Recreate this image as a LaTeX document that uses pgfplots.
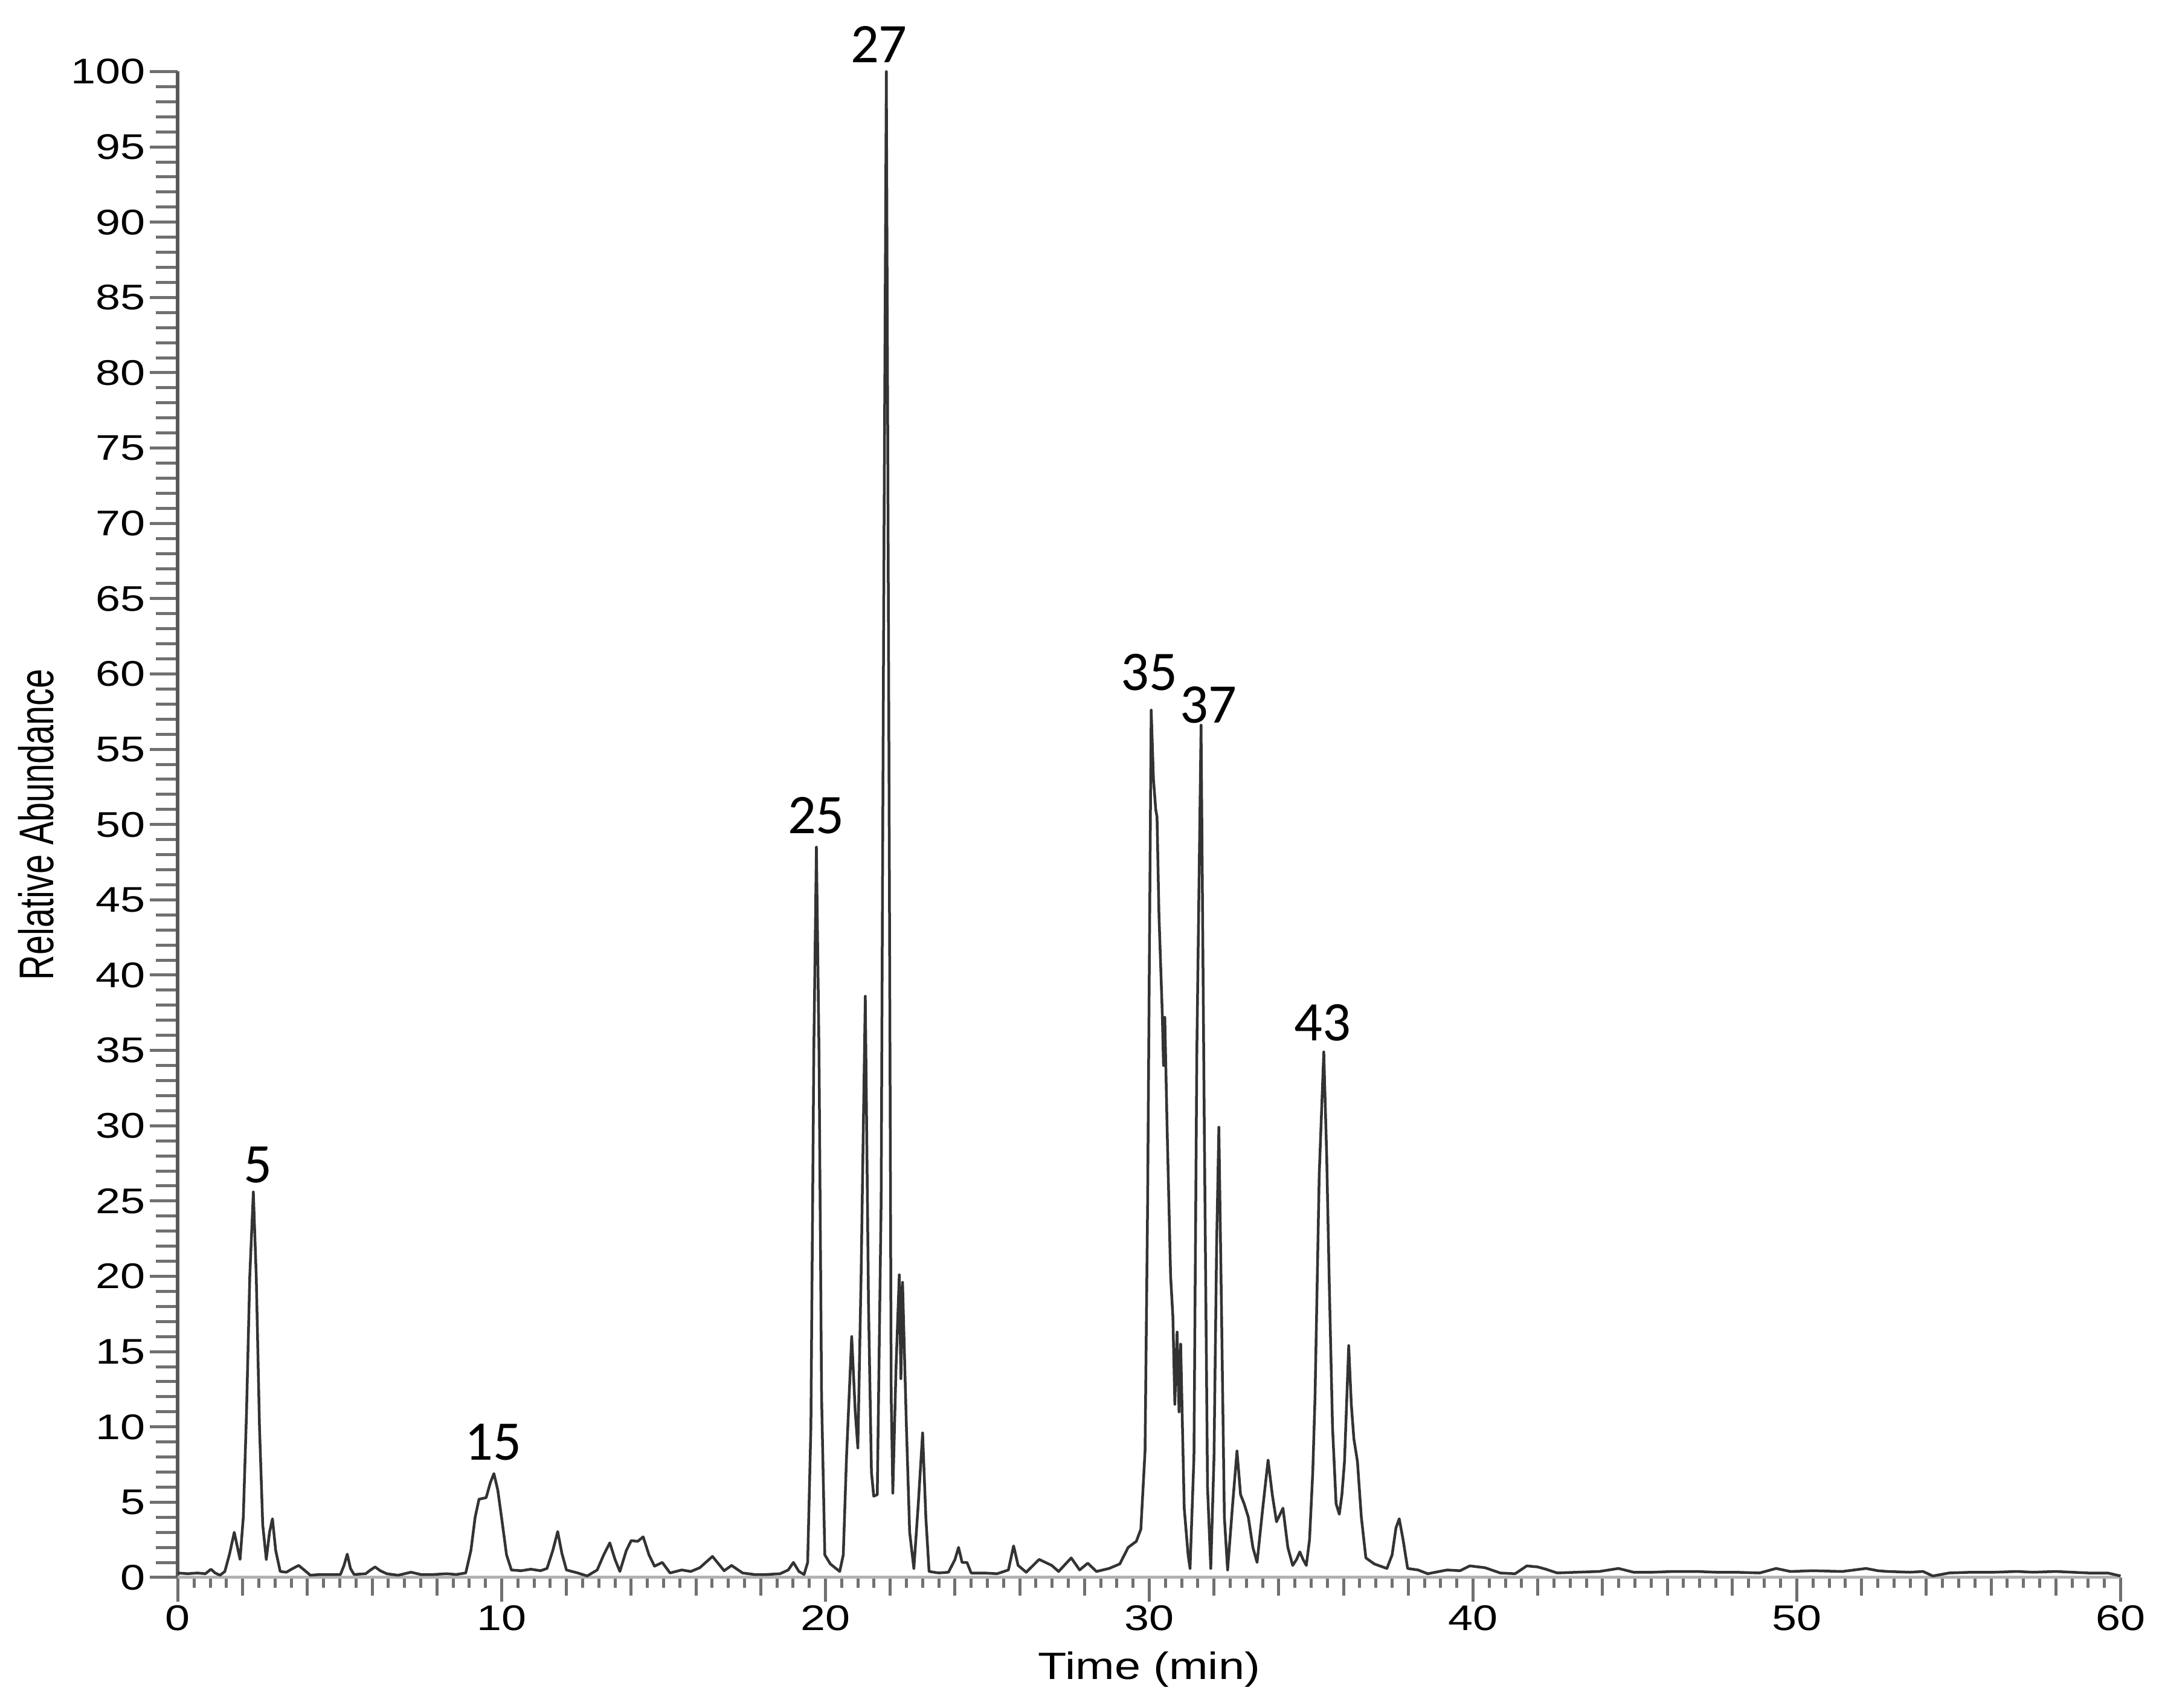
\documentclass[border=0pt]{standalone}
\usepackage{graphicx}
\usepackage{fontspec}
\setmainfont{Liberation Sans}
\newfontfamily\peakfont{Carlito}
\usepackage{pgfplots}
\pgfplotsset{compat=1.18}

\definecolor{trace}{HTML}{333333}
\definecolor{tickgray}{HTML}{707070}

\pgfplotsset{
  chrom/.style={
    scale only axis, width=643.2pt, height=498.5pt,
    at={(58.9pt,43.2pt)}, anchor=south west,
    xmin=0, xmax=60, ymin=0, ymax=100,
    clip=false,
    tick style={tickgray, line width=1pt},
    /pgf/number format/assume math mode=true,
    tick label style={font=\fontsize{11.8}{12}\selectfont, xscale=1.25, inner sep=0pt},
    xticklabel style={anchor=north, yshift=-1pt},
    yticklabel style={anchor=east, xshift=-1pt},
  },
}

\begin{document}
\begin{tikzpicture}
\useasboundingbox (0,0) rectangle (715.8pt,565.4pt);

% 2 min and 0.5 min ticks on the time axis
\begin{axis}[chrom,
  axis x line=bottom, axis y line=none,
  x axis line style={-, black!30, line width=1pt},
  xtick={0,2,...,60}, xticklabels={},
  minor xtick={0,0.5,...,60},
  major tick length=6pt, minor tick length=3.4pt,
  ytick=\empty, tick align=outside]
\end{axis}

% abundance axis
\begin{axis}[chrom,
  axis x line=none, axis y line=left,
  y axis line style={-, black!65, line width=1.2pt},
  xtick=\empty,
  ytick={0,5,...,100}, minor y tick num=4,
  major tick length=9.3pt, minor tick length=7.3pt,
  tick align=outside]
\end{axis}

% time axis labels and the trace
\begin{axis}[chrom,
  axis x line=bottom, axis y line=none,
  x axis line style={-, black!30, line width=1pt},
  xtick={0,10,...,60}, minor x tick num=0,
  major tick length=8pt,
  ytick=\empty, tick align=outside]

\addplot[trace, line width=0.9pt, line join=round, mark=none] coordinates {
(0.00,0.30) (0.30,0.25) (0.60,0.30) (0.85,0.25) (1.02,0.55) (1.15,0.30)
(1.30,0.15) (1.45,0.40) (1.60,1.60) (1.74,3.00) (1.84,2.00) (1.92,1.20)
(2.02,4.0) (2.12,11.0) (2.22,20.0) (2.33,25.6) (2.42,20.0) (2.52,10.0)
(2.62,3.5) (2.73,1.20) (2.83,3.0) (2.92,3.90) (3.02,1.8) (3.16,0.40)
(3.35,0.35) (3.55,0.60) (3.73,0.80) (3.90,0.50) (4.09,0.15) (4.40,0.20)
(4.80,0.20) (5.02,0.20) (5.13,0.8) (5.23,1.55) (5.33,0.6) (5.44,0.20)
(5.80,0.25) (5.95,0.50) (6.09,0.70) (6.25,0.45) (6.45,0.25) (6.80,0.15)
(7.20,0.35) (7.50,0.20) (7.90,0.20) (8.30,0.25) (8.60,0.20) (8.89,0.30)
(9.05,1.8) (9.18,4.0) (9.30,5.20) (9.52,5.30) (9.65,6.3) (9.76,6.90)
(9.88,5.8) (10.02,3.60) (10.15,1.5) (10.30,0.50) (10.60,0.45) (10.90,0.55)
(11.20,0.45) (11.40,0.60) (11.58,1.8) (11.73,3.05) (11.86,1.6) (12.00,0.50)
(12.35,0.30) (12.64,0.10) (12.95,0.5) (13.15,1.5) (13.34,2.30) (13.50,1.2)
(13.65,0.40) (13.85,1.8) (14.00,2.45) (14.20,2.40) (14.37,2.70) (14.55,1.5)
(14.72,0.75) (14.96,1.00) (15.20,0.30) (15.56,0.50) (15.84,0.40) (16.12,0.65)
(16.51,1.40) (16.87,0.45) (17.10,0.80) (17.44,0.30) (17.80,0.20) (18.20,0.20)
(18.60,0.25) (18.85,0.5) (19.01,1.00) (19.18,0.40) (19.34,0.20) (19.45,1.0)
(19.55,10.0) (19.64,35.0) (19.72,48.5) (19.80,35.0) (19.88,12.0) (19.98,1.5)
(20.15,0.9) (20.44,0.40) (20.55,1.5) (20.65,8.0) (20.81,16.0) (20.92,11.0)
(21.00,8.6) (21.10,20.0) (21.23,38.6) (21.33,18.0) (21.42,7.0) (21.49,5.4)
(21.60,5.5) (21.72,25.0) (21.81,70.0) (21.88,100.0) (21.96,55.0) (22.03,12.0)
(22.08,5.6) (22.18,14.0) (22.28,20.1) (22.33,13.2) (22.38,19.6) (22.50,10.0)
(22.60,3.0) (22.73,0.60) (22.87,5.0) (23.00,9.60) (23.10,4.0) (23.20,0.40)
(23.50,0.30) (23.80,0.35) (24.00,1.2) (24.11,2.00) (24.22,1.00) (24.37,1.00)
(24.50,0.30) (24.90,0.30) (25.30,0.25) (25.65,0.5) (25.81,2.10) (25.95,0.8)
(26.20,0.35) (26.60,1.20) (26.99,0.80) (27.20,0.40) (27.59,1.30) (27.85,0.50)
(28.10,0.95) (28.37,0.40) (28.76,0.60) (29.09,0.90) (29.35,2.00) (29.60,2.40)
(29.74,3.20) (29.87,8.40) (29.95,25.0) (30.00,40.0) (30.06,57.6) (30.13,53.0)
(30.20,51.0) (30.24,50.5) (30.30,44.0) (30.40,37.6) (30.44,34.0) (30.48,37.2)
(30.55,30.0) (30.66,20.0) (30.73,17.3) (30.79,11.5) (30.86,16.3) (30.92,11.0)
(30.97,15.5) (31.08,4.60) (31.20,1.5) (31.26,0.60) (31.38,8.0) (31.47,35.0)
(31.60,56.6) (31.70,30.0) (31.80,6.0) (31.90,0.60) (32.00,8.0) (32.08,22.0)
(32.15,29.9) (32.23,18.0) (32.32,4.0) (32.42,0.50) (32.58,5.0) (32.71,8.40)
(32.82,5.5) (32.93,4.90) (33.06,4.00) (33.20,2.0) (33.33,1.00) (33.50,4.5)
(33.67,7.80) (33.80,5.5) (33.93,3.70) (34.13,4.60) (34.28,2.0) (34.43,0.80)
(34.55,1.2) (34.65,1.70) (34.75,1.2) (34.85,0.80) (34.95,2.5) (35.05,7.0)
(35.12,12.0) (35.25,26.8) (35.39,34.9) (35.48,28.0) (35.56,19.5) (35.66,10.0)
(35.77,4.90) (35.87,4.20) (35.95,5.5) (36.03,7.70) (36.16,15.4) (36.24,11.5)
(36.32,9.20) (36.43,7.70) (36.55,4.0) (36.69,1.30) (36.95,0.90) (37.34,0.60)
(37.50,1.5) (37.62,3.3) (37.72,3.90) (37.84,2.5) (37.98,0.60) (38.30,0.50)
(38.60,0.25) (39.20,0.50) (39.60,0.45) (39.90,0.77) (40.37,0.65) (40.84,0.30)
(41.30,0.25) (41.66,0.77) (42.00,0.70) (42.25,0.55) (42.60,0.30) (43.20,0.35)
(43.90,0.40) (44.49,0.60) (44.96,0.35) (45.55,0.35) (46.20,0.40) (46.90,0.40)
(47.50,0.35) (48.10,0.35) (48.85,0.30) (49.36,0.60) (49.80,0.40) (50.50,0.45)
(51.40,0.40) (52.14,0.60) (52.50,0.45) (52.80,0.40) (53.50,0.35) (53.90,0.40)
(54.20,0.10) (54.70,0.30) (55.40,0.35) (56.10,0.35) (56.80,0.40) (57.30,0.35)
(58.00,0.40) (58.50,0.35) (59.00,0.30) (59.60,0.30) (60.00,0.10)
};

% peak numbers
\begin{scope}[every node/.style={anchor=base, inner sep=0pt, font=\peakfont\fontsize{18.5}{19}\selectfont}]
\node at (axis cs:2.48,26.2) {5};
\node at (axis cs:9.74,7.8) {15};
\node at (axis cs:19.71,49.4) {25};
\node at (axis cs:21.65,100.6) {27};
\node at (axis cs:30.0,58.9) {35};
\node at (axis cs:31.83,56.75) {37};
\node at (axis cs:35.35,35.65) {43};
\end{scope}

% axis titles
\node[anchor=base, inner sep=0pt, font=\fontsize{12.6}{13}\selectfont]
  at ([yshift=-33.8pt]rel axis cs:0.5,0) {\scalebox{1.23}[1]{Time (min)}};
\node[rotate=90, anchor=base, inner sep=0pt, font=\fontsize{11.5}{12}\selectfont]
  at ([xshift=-41.2pt]rel axis cs:0,0.5) {\scalebox{1}[1.4]{Relative Abundance}};
\end{axis}
\end{tikzpicture}
\end{document}
